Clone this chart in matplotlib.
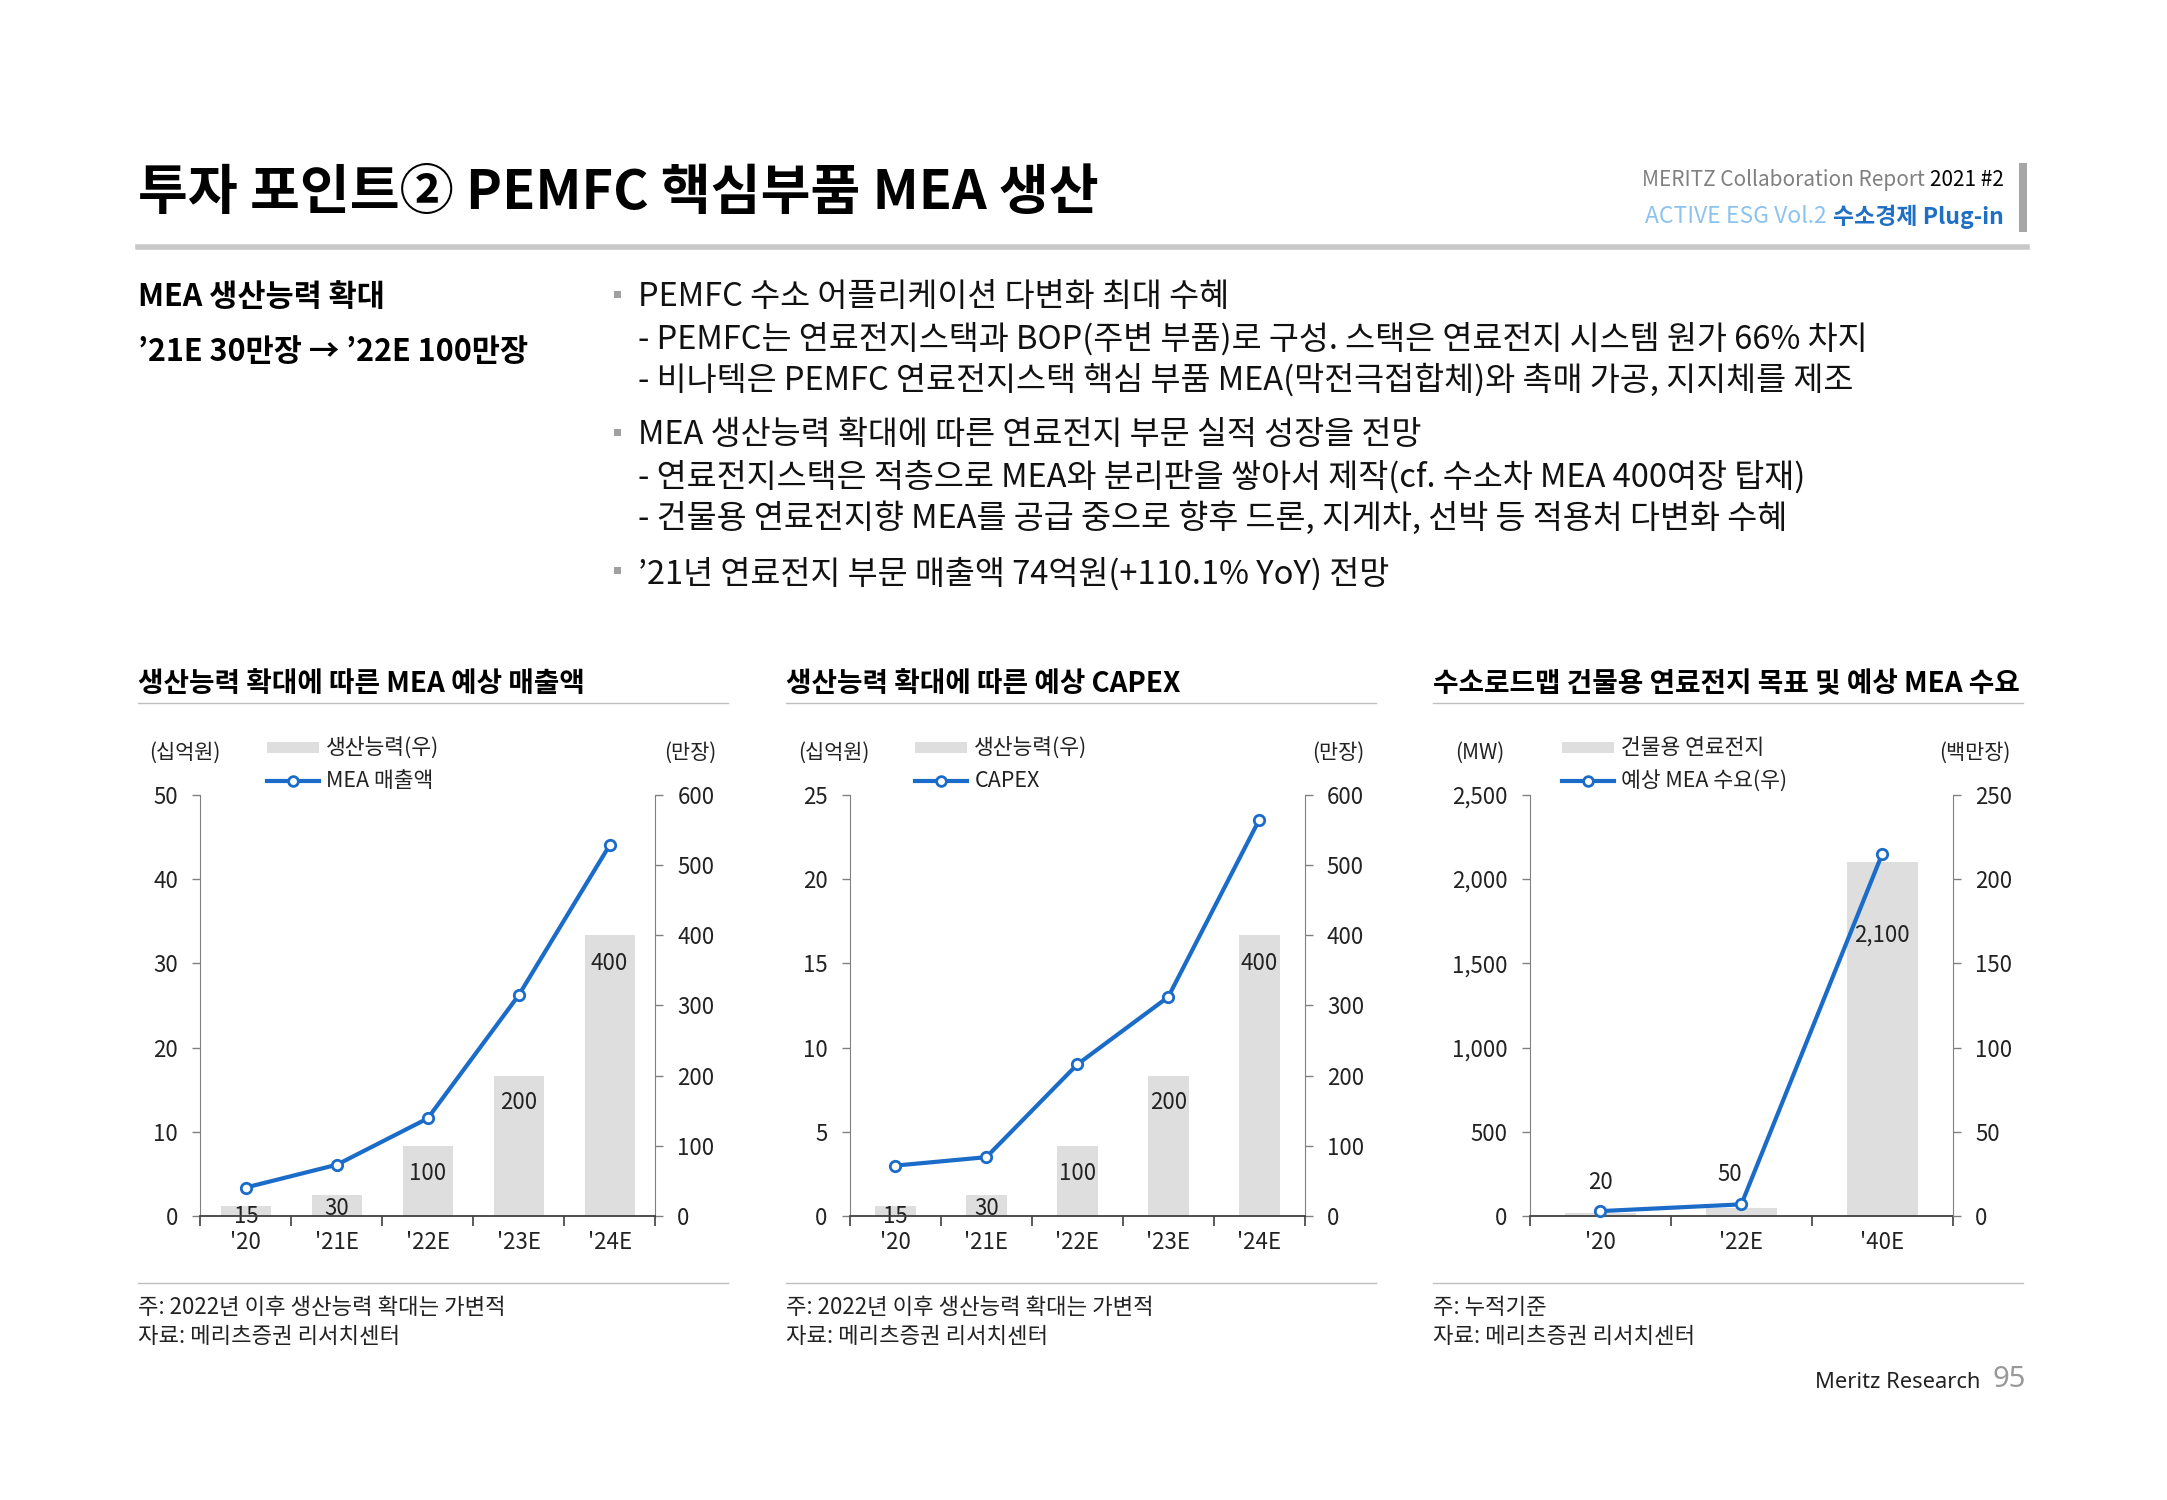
import numpy as np
import matplotlib
matplotlib.use("Agg")
import matplotlib.pyplot as plt
from matplotlib.lines import Line2D
from matplotlib.patches import Rectangle

plt.rcParams['font.family'] = ['Noto Sans CJK KR', 'DejaVu Sans']

# --- data ---
years5 = ["'20", "'21E", "'22E", "'23E", "'24E"]
capacity = [15, 30, 100, 200, 400]          # 만장, right axis
mea_sales = [3.4, 6.1, 11.6, 26.2, 44.0]    # 십억원
capex = [3.0, 3.5, 9.0, 13.0, 23.5]         # 십억원

years3 = ["'20", "'22E", "'40E"]
building_mw = [20, 50, 2100]                # MW
mea_demand = [3.0, 7.0, 215.0]              # 백만장, right axis

bullets = [
    ("PEMFC 수소 어플리케이션 다변화 최대 수혜",
     ["- PEMFC는 연료전지스택과 BOP(주변 부품)로 구성. 스택은 연료전지 시스템 원가 66% 차지",
      "- 비나텍은 PEMFC 연료전지스택 핵심 부품 MEA(막전극접합체)와 촉매 가공, 지지체를 제조"]),
    ("MEA 생산능력 확대에 따른 연료전지 부문 실적 성장을 전망",
     ["- 연료전지스택은 적층으로 MEA와 분리판을 쌓아서 제작(cf. 수소차 MEA 400여장 탑재)",
      "- 건물용 연료전지향 MEA를 공급 중으로 향후 드론, 지게차, 선박 등 적용처 다변화 수혜"]),
    ("’21년 연료전지 부문 매출액 74억원(+110.1% YoY) 전망", []),
]

BLUE = '#1a6cc8'
BAR = '#dedede'
INK = '#222222'

W, H = 2167, 1500
K = W / 1568          # layout below is measured on a 1568-wide page
fig = plt.figure(figsize=(W / 100, H / 100), dpi=100)
renderer = fig.canvas.get_renderer()


def fx(x):
    return x * K / W


def fy(y):
    return 1 - y * K / H


def txt(x, y, s, **kw):
    kw.setdefault('va', 'center')
    return fig.text(fx(x), fy(y + 2), s, **kw)


def hline(x0, x1, y, color, lw):
    fig.add_artist(Line2D([fx(x0), fx(x1)], [fy(y), fy(y)],
                          transform=fig.transFigure, color=color, lw=lw))


def rect(x0, y0, x1, y1, color):
    fig.add_artist(Rectangle((fx(x0), fy(y1)), fx(x1) - fx(x0), fy(y0) - fy(y1),
                             transform=fig.transFigure, color=color, lw=0))


def left_of(t, gap):
    return t.get_window_extent(renderer).x0 / K - gap


# --- header ---
txt(100, 138, "투자 포인트② PEMFC 핵심부품 MEA 생산", fontsize=39,
    fontweight='bold', color='black')

t = txt(1450, 128, "2021 #2", ha='right', fontsize=15, color='black')
txt(left_of(t, 4), 128, "MERITZ Collaboration Report", ha='right', fontsize=15,
    color='#808080')
t = txt(1450, 155, "수소경제 Plug-in", ha='right', fontsize=16.5,
        color='#1f6fc5', fontweight='bold')
txt(left_of(t, 5), 155, "ACTIVE ESG Vol.2", ha='right', fontsize=16.5,
    color='#8cc3ee')
rect(1461, 118, 1467, 168, '#a6a6a6')
hline(100, 1467, 179, '#c8c8c8', 4)

# --- summary text ---
txt(100, 213, "MEA 생산능력 확대", fontsize=22, fontweight='bold')
txt(100, 253, "’21E 30만장 → ’22E 100만장", fontsize=22, fontweight='bold')

y = 213
for head, subs in bullets:
    rect(444.5, y - 2.5, 449.5, y + 2.5, '#a0a0a0')
    txt(462, y, head, fontsize=23.5, color='#111111')
    y += 30
    for s in subs:
        txt(462, y, s, fontsize=23.5, color='#111111')
        y += 30
    y += 10


# --- charts ---
def draw_chart(sec, left, right, title, cats, bars, line, bars_left,
               lim_l, ticks_l, lim_r, ticks_r, unit_l, unit_r,
               leg_bar, leg_line, bar_w, label_offsets, notes, comma=False):
    top, bottom = 575, 880
    ax = fig.add_axes([fx(left), fy(bottom), fx(right) - fx(left), fy(top) - fy(bottom)])
    ax2 = ax.twinx()
    n = len(cats)
    xs = np.arange(n)
    bar_ax, line_ax = (ax, ax2) if bars_left else (ax2, ax)
    bar_ax.bar(xs, bars, width=bar_w, color=BAR, zorder=1)
    line_ax.plot(xs, line, color=BLUE, lw=3, marker='o', ms=7.5,
                 mfc='white', mec=BLUE, mew=2, zorder=5, clip_on=False)
    if not bars_left:
        ax.set_zorder(ax2.get_zorder() + 1)
        ax.patch.set_visible(False)
    for xv, v, off in zip(xs, bars, label_offsets):
        bar_ax.annotate(f"{v:,}", (xv, v), xytext=off,
                        textcoords='offset pixels', ha='center', va='center',
                        fontsize=16, color=INK, zorder=3)
    ax.set_xlim(-0.5, n - 0.5)
    ax.set_ylim(*lim_l)
    ax2.set_ylim(*lim_r)
    ax.set_yticks(ticks_l)
    ax2.set_yticks(ticks_r)
    if comma:
        ax.set_yticklabels([f"{v:,}" for v in ticks_l])
    ax.set_xticks(np.arange(n + 1) - 0.5)
    ax.set_xticklabels([])
    ax.set_xticks(xs, minor=True)
    ax.set_xticklabels(cats, minor=True)
    ax.tick_params(axis='x', which='major', direction='out', length=7,
                   color='#404040', width=1.2)
    ax.tick_params(axis='x', which='minor', length=0, pad=11, labelsize=16,
                   labelcolor=INK)
    for a in (ax, ax2):
        a.tick_params(axis='y', direction='out', length=6, color='#808080',
                      width=1, pad=10, labelsize=16, labelcolor=INK)
        a.spines['top'].set_visible(False)
    ax.spines['right'].set_visible(False)
    ax2.spines['left'].set_visible(False)
    ax2.spines['bottom'].set_visible(False)
    ax.spines['left'].set_color('#808080')
    ax2.spines['right'].set_color('#808080')
    ax.spines['bottom'].set_color('#404040')
    ax.spines['bottom'].set_linewidth(1.3)

    end = sec + 427
    txt(sec, 493, title, fontsize=20, fontweight='bold')
    hline(sec, end, 509, '#bfbfbf', 1)
    hline(sec, end, 928, '#bfbfbf', 1)
    for i, s in enumerate(notes):
        txt(sec, 944 + i * 21, s, fontsize=16, color=INK)

    txt(sec + 34, 543, unit_l, ha='center', fontsize=15, color=INK)
    txt(end - 9, 543, unit_r, ha='right', fontsize=15, color=INK)
    lx = sec + 93
    rect(lx, 537, lx + 38, 545, BAR)
    txt(lx + 43, 539, leg_bar, fontsize=15.5, color=INK)
    fig.add_artist(Line2D([fx(lx), fx(lx + 38)], [fy(565), fy(565)],
                          transform=fig.transFigure, color=BLUE, lw=3, zorder=5))
    fig.add_artist(Line2D([fx(lx + 19)], [fy(565)], transform=fig.transFigure,
                          color=BLUE, marker='o', ms=7, mfc='white', mew=2,
                          zorder=6))
    txt(lx + 43, 563, leg_line, fontsize=15.5, color=INK)


note_a = ["주: 2022년 이후 생산능력 확대는 가변적", "자료: 메리츠증권 리서치센터"]
offs5 = [(0, -11), (0, -13), (0, -28), (0, -27), (0, -28)]
draw_chart(100, 145, 474, "생산능력 확대에 따른 MEA 예상 매출액", years5, capacity,
           mea_sales, False, (0, 50), range(0, 51, 10), (0, 600),
           range(0, 601, 100), "(십억원)", "(만장)", "생산능력(우)", "MEA 매출액",
           0.55, offs5, note_a)
draw_chart(569, 615, 944, "생산능력 확대에 따른 예상 CAPEX", years5, capacity,
           capex, False, (0, 25), range(0, 26, 5), (0, 600),
           range(0, 601, 100), "(십억원)", "(만장)", "생산능력(우)", "CAPEX",
           0.45, offs5, note_a)
draw_chart(1037, 1107, 1413, "수소로드맵 건물용 연료전지 목표 및 예상 MEA 수요", years3,
           building_mw, mea_demand, True, (0, 2500), range(0, 2501, 500),
           (0, 250), range(0, 251, 50), "(MW)", "(백만장)", "건물용 연료전지",
           "예상 MEA 수요(우)", 0.5, [(0, 30), (-12, 33), (0, -73)],
           ["주: 누적기준", "자료: 메리츠증권 리서치센터"], comma=True)

# --- footer ---
t = txt(1466, 996, "95", ha='right', fontsize=21, color='#999999',
        family=['Noto Sans', 'DejaVu Sans'])
txt(left_of(t, 9), 998, "Meritz Research", ha='right', fontsize=15.8, color=INK,
    family=['Noto Sans', 'DejaVu Sans'])

fig.savefig("out.png", dpi=100)
